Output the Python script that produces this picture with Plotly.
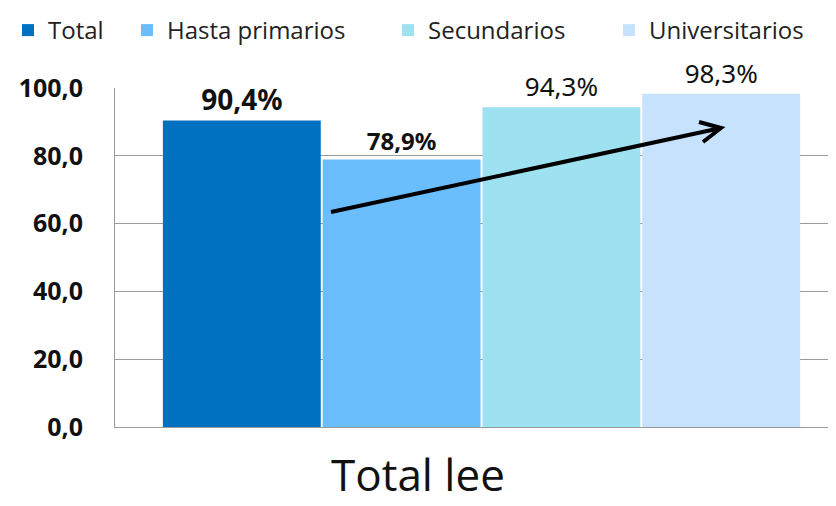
import plotly.graph_objects as go

# ── 資料 ──────────────────────────────────────────────────────────────
CATEGORY = ['Total lee']
SERIES = ['Total', 'Hasta primarios', 'Secundarios', 'Universitarios']
VALUES = [90.4, 78.9, 94.3, 98.3]
LABELS = ['90,4%', '78,9%', '94,3%', '98,3%']

# ── 樣式 ──────────────────────────────────────────────────────────────
COLORS = ['#0070C0', '#6BBEFE', '#9EE1F1', '#C6E2FC']
LABEL_STYLE = [
    {'size': 28, 'weight': 'bold'},
    {'size': 24, 'weight': 'bold'},
    {'size': 26, 'weight': 'normal'},
    {'size': 26, 'weight': 'normal'},
]
# 各圖例文字在螢幕上的起點 x
LEGEND_TEXT_X = [53, 175, 436, 657]
GRID = '#9a9a9a'
FONT = 'Open Sans, Noto Sans, sans-serif'

W, H = 836, 506
OFF = 8                      # 頁面 body 預設 margin
# 目標畫面上的繪圖區：左 115、上 88、下 427（螢幕座標）
L, T = 115 - OFF, 88 - OFF
B = H - (427 - OFF)
R = 0


def px(x):
    """螢幕 x → paper x"""
    return (x - OFF - L) / (W - L - R)


def py(y):
    """螢幕 y → paper y"""
    return (H - B - (y - OFF)) / (H - B - T)


fig = go.Figure()
legend_ids = ['legend', 'legend2', 'legend3', 'legend4']
for i, (name, val, lab, col, sty) in enumerate(zip(SERIES, VALUES, LABELS, COLORS, LABEL_STYLE)):
    fig.add_trace(go.Bar(
        x=CATEGORY, y=[val], name=name, legend=legend_ids[i],
        marker=dict(color=col, line=dict(width=0)),
        text=[lab], textposition='outside', cliponaxis=False,
        textfont=dict(family='Noto Sans, sans-serif', color='#111',
                      size=sty['size'], weight=sty['weight']),
    ))

# 趨勢箭頭
tail = (331, 212)
tip = (721, 128)
arm1 = (699, 122)
arm2 = (703, 142)
fig.add_shape(type='line', xref='paper', yref='paper',
              x0=px(tail[0]), y0=py(tail[1]), x1=px(tip[0]), y1=py(tip[1]),
              line=dict(color='black', width=4))
fig.add_shape(type='path', xref='paper', yref='paper',
              path=f'M {px(arm1[0])} {py(arm1[1])} L {px(tip[0])} {py(tip[1])} '
                   f'L {px(arm2[0])} {py(arm2[1])}',
              line=dict(color='black', width=4))

# 類別標籤
fig.add_annotation(text=CATEGORY[0], xref='paper', yref='paper',
                   x=px(418), y=py(506), showarrow=False,
                   font=dict(family=FONT, size=44, color='#111'))

legend_base = dict(orientation='h', xref='container', xanchor='left',
                   y=1.0, yref='container', yanchor='top',
                   bgcolor='rgba(0,0,0,0)',
                   font=dict(family=FONT, size=24, color='#222'),
                   itemwidth=30)
legends = {}
for lid, tx in zip(legend_ids, LEGEND_TEXT_X):
    legends[lid] = dict(legend_base, x=max(tx - 48 - OFF, 0) / W)

fig.update_layout(
    width=W, height=H,
    margin=dict(l=L, r=R, t=T, b=B, autoexpand=False),
    paper_bgcolor='white', plot_bgcolor='white',
    barmode='group', bargap=0.128, bargroupgap=0.012,
    separators=',.',
    showlegend=True,
    font=dict(family=FONT),
    **legends,
)
fig.update_xaxes(range=[-0.5, 0.4945], showticklabels=False, showgrid=False,
                 showline=True, linecolor=GRID, linewidth=1, ticks='')
fig.update_yaxes(range=[0, 100], dtick=20, tickformat='.1f',
                 showgrid=True, gridcolor=GRID, gridwidth=1,
                 showline=True, linecolor=GRID, linewidth=1,
                 ticks='outside', ticklen=26, tickcolor='rgba(0,0,0,0)',
                 zeroline=False,
                 tickfont=dict(family='Noto Sans, sans-serif', size=25,
                               color='#111', weight='bold'))

fig.write_html('out.html')
